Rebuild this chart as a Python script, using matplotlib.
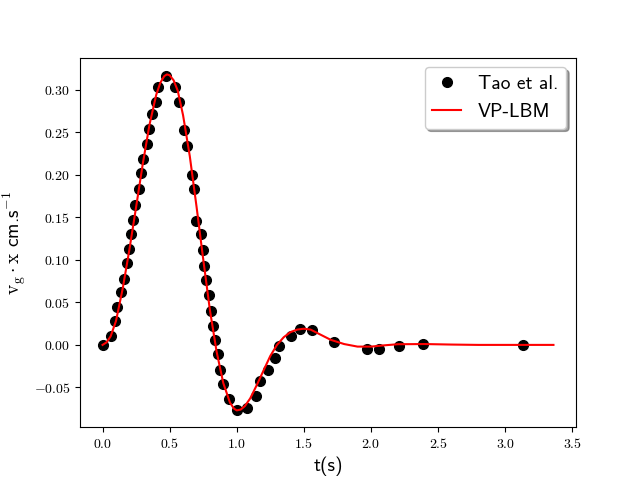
import matplotlib
matplotlib.use("Agg")
import matplotlib.pyplot as plt
from matplotlib.ticker import FuncFormatter

plt.rcParams['mathtext.fontset'] = 'cm'

# Tao et al. (points)
tao_t = [0.0, 0.061, 0.091, 0.11, 0.136, 0.16, 0.18, 0.198, 0.21, 0.228, 0.243,
         0.272, 0.285, 0.305, 0.334, 0.347, 0.367, 0.397, 0.414, 0.476, 0.539,
         0.571, 0.608, 0.633, 0.67, 0.683, 0.70, 0.733, 0.745, 0.757, 0.77,
         0.795, 0.807, 0.82, 0.84, 0.857, 0.877, 0.90, 0.944, 0.999, 1.076,
         1.143, 1.175, 1.23, 1.285, 1.317, 1.404, 1.47, 1.558, 1.727, 1.969,
         2.058, 2.21, 2.386, 3.133]
tao_v = [0.0, 0.011, 0.028, 0.045, 0.062, 0.077, 0.096, 0.113, 0.130, 0.147, 0.165,
         0.183, 0.202, 0.218, 0.236, 0.254, 0.272, 0.286, 0.303, 0.316, 0.303,
         0.286, 0.253, 0.234, 0.200, 0.183, 0.146, 0.130, 0.111, 0.093, 0.076,
         0.059, 0.040, 0.022, 0.006, -0.011, -0.029, -0.046, -0.064, -0.076, -0.074,
         -0.060, -0.042, -0.029, -0.015, -0.001, 0.011, 0.019, 0.017, 0.003, -0.005,
         -0.005, -0.001, 0.001, 0.0]

# VP-LBM (line)
lbm_t = [0.0, 0.03, 0.06, 0.1, 0.15, 0.2, 0.25, 0.3, 0.35, 0.4, 0.43, 0.46, 0.48,
         0.5, 0.53, 0.56, 0.6, 0.65, 0.7, 0.75, 0.8, 0.85, 0.9, 0.95, 0.98, 1.0,
         1.03, 1.06, 1.1, 1.15, 1.2, 1.25, 1.3, 1.35, 1.4, 1.45, 1.5, 1.55, 1.6,
         1.7, 1.8, 1.9, 2.0, 2.1, 2.2, 2.4, 2.6, 2.8, 3.0, 3.2, 3.36]
lbm_v = [0.0, 0.003, 0.010, 0.028, 0.066, 0.112, 0.162, 0.213, 0.259, 0.294, 0.308,
         0.316, 0.318, 0.317, 0.311, 0.299, 0.270, 0.222, 0.163, 0.101, 0.041,
         -0.008, -0.045, -0.068, -0.075, -0.077, -0.076, -0.072, -0.063, -0.047,
         -0.030, -0.013, 0.000, 0.009, 0.015, 0.018, 0.019, 0.018, 0.014, 0.006,
         0.001, -0.002, -0.002, -0.0005, 0.0008, 0.001, 0.0004, 0.0, 0.0, 0.0, 0.0]

fig, ax = plt.subplots(figsize=(6.4, 4.8), dpi=100)

ax.plot(tao_t, tao_v, 'ko', markersize=7, label='Tao et al.')
ax.plot(lbm_t, lbm_v, 'r-', linewidth=1.5, label='VP-LBM')

# ticks in computer modern serif
ax.xaxis.set_major_formatter(FuncFormatter(lambda x, p: r'$%.1f$' % x))
ax.yaxis.set_major_formatter(FuncFormatter(lambda y, p: r'$%.2f$' % y))

ax.set_xlabel('t(s)', fontsize=14, family='cmss10')
ax.set_ylabel(r'$\mathrm{v_g \cdot x}$ cm.s$^{-1}$', fontsize=14, family='cmss10')

ax.legend(loc='upper right', shadow=True, fancybox=True,
          handlelength=1.45, handletextpad=0.9,
          prop={'family': 'cmss10', 'size': 14})

fig.savefig('out.png', dpi=100)
